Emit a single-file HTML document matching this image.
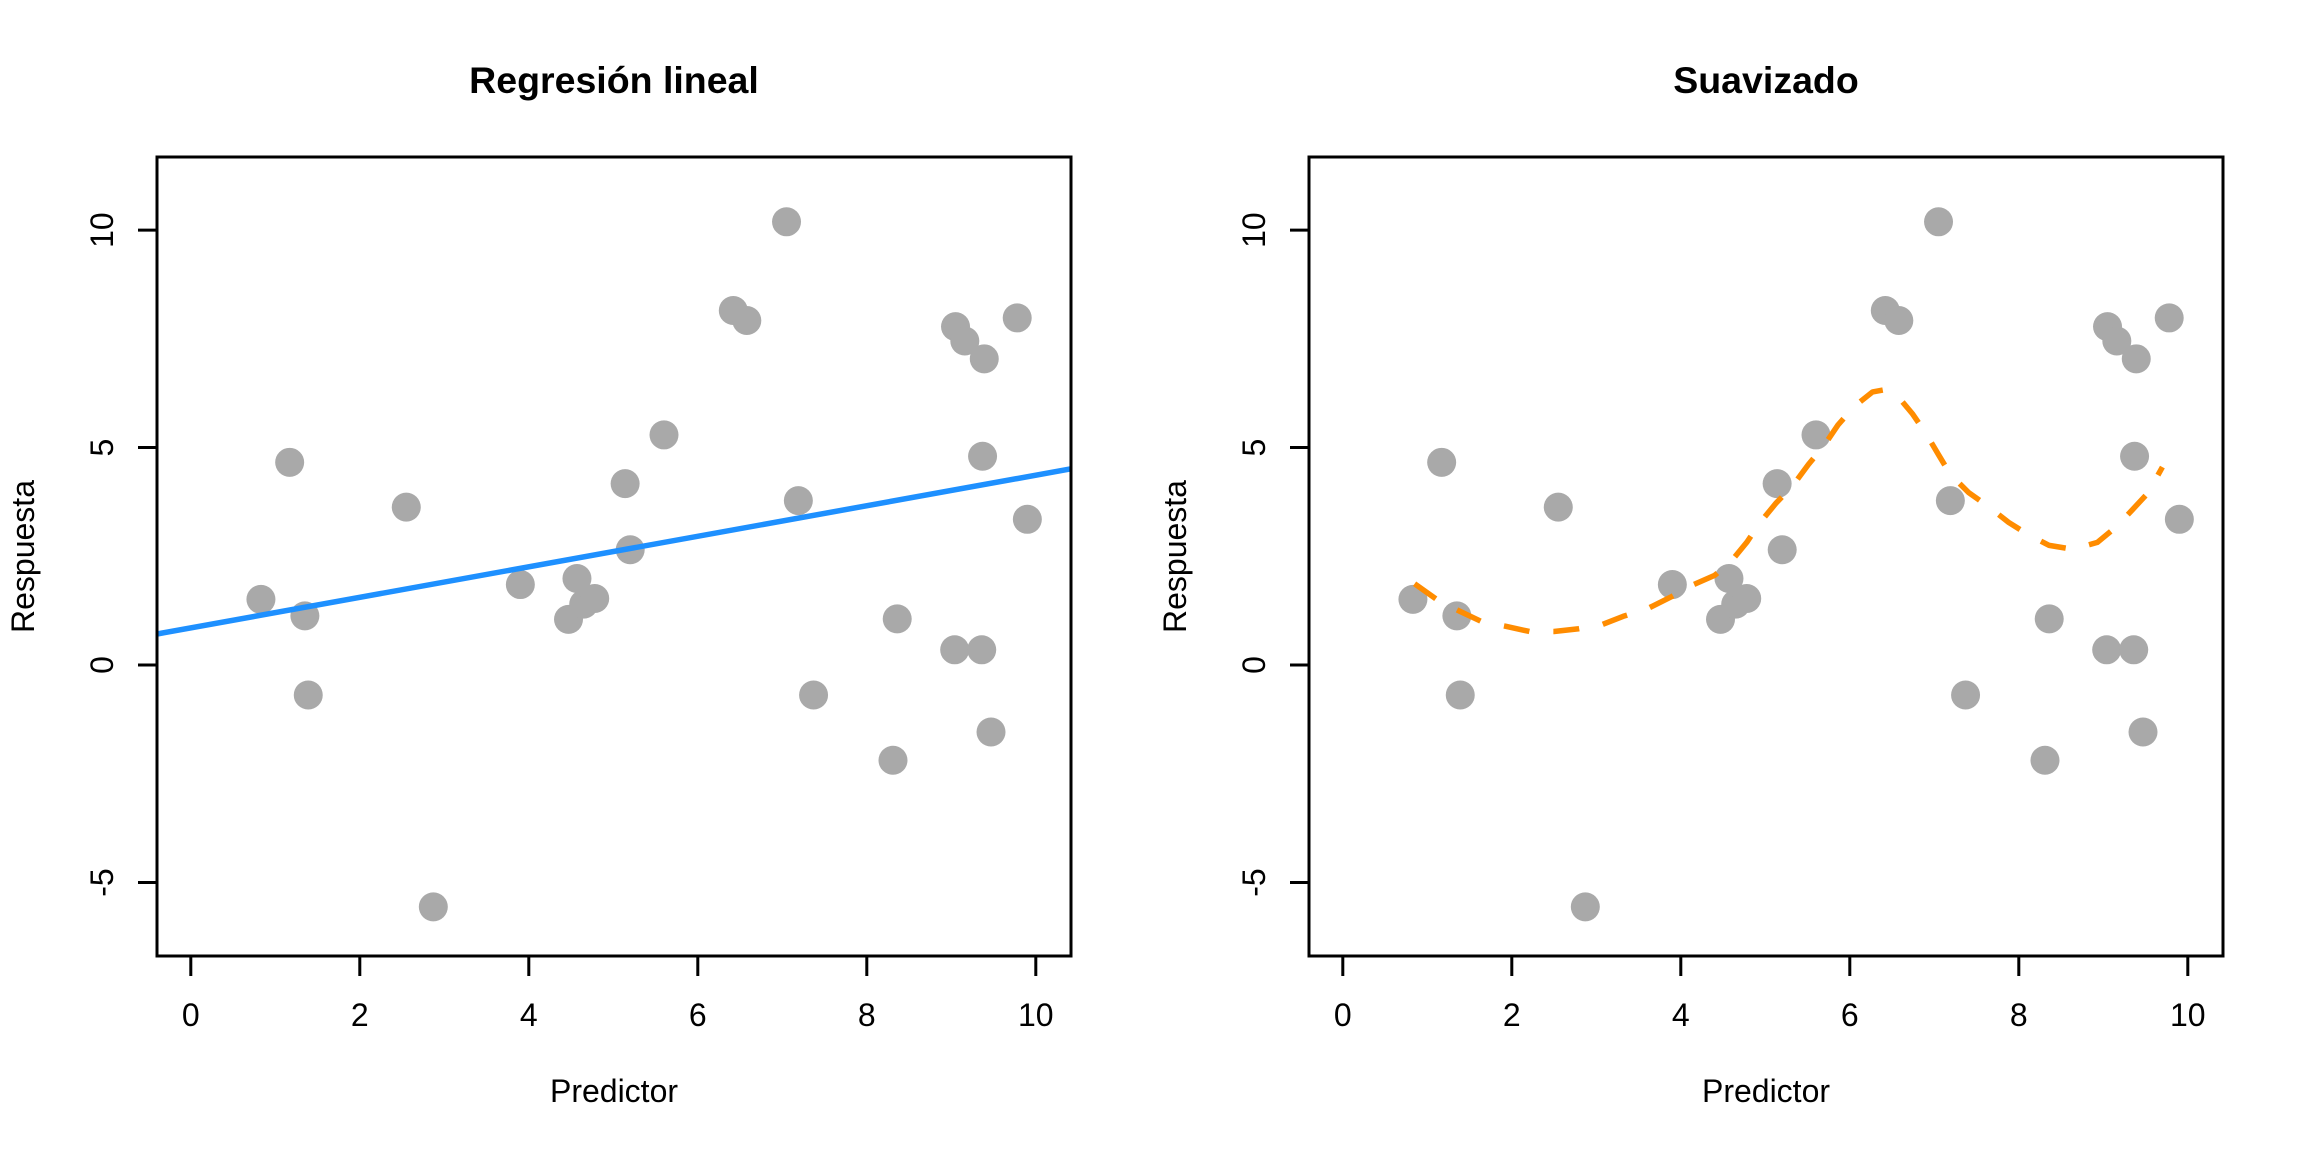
<!DOCTYPE html>
<html><head><meta charset="utf-8"><style>
html,body{margin:0;padding:0;background:#fff;}
svg{display:block;font-family:"Liberation Sans",Arial,sans-serif;}
</style></head><body>
<svg id="fig" width="2304" height="1152" viewBox="0 0 2304 1152"></svg>
<script>
const xs=[0.83,1.17,1.35,1.39,2.55,2.87,3.90,4.47,4.57,4.65,4.78,5.14,5.20,5.60,6.42,6.58,7.05,7.19,7.37,8.31,8.36,9.04,9.05,9.16,9.36,9.37,9.39,9.47,9.78,9.90];
const ys=[1.51,4.66,1.13,-0.69,3.63,-5.56,1.85,1.05,1.99,1.40,1.53,4.17,2.65,5.29,8.15,7.92,10.19,3.78,-0.69,-2.19,1.06,0.35,7.78,7.45,0.35,4.80,7.04,-1.54,7.98,3.35];
const lineCoef=[0.854,0.351];
const smoothX=[0.85,1.13,1.39,1.64,1.93,2.21,2.50,2.78,3.07,3.32,3.61,3.89,4.14,4.40,4.59,4.78,4.94,5.13,5.32,5.51,5.70,5.86,6.05,6.27,6.39,6.55,6.74,6.90,7.06,7.19,7.41,7.63,7.88,8.10,8.36,8.64,8.93,9.15,9.34,9.53,9.70];
const smoothY=[1.87,1.48,1.23,1.00,0.89,0.77,0.77,0.83,0.93,1.12,1.30,1.57,1.84,2.06,2.37,2.82,3.28,3.73,4.11,4.61,5.06,5.52,5.94,6.28,6.32,6.22,5.78,5.33,4.80,4.38,3.96,3.66,3.28,3.01,2.75,2.66,2.82,3.17,3.56,3.96,4.55];
const xTicks=[0,2,4,6,8,10];
const yTicks=[-5,0,5,10];
const titles=["Regresión lineal","Suavizado"];

const NS="http://www.w3.org/2000/svg";
const svg=document.getElementById('fig');
function mk(tag,attrs,parent,text){const e=document.createElementNS(NS,tag);for(const k in attrs)e.setAttribute(k,attrs[k]);if(text!==undefined)e.textContent=text;(parent||svg).appendChild(e);return e;}

const panels=[{left:157,right:1071},{left:1309,right:2223}];
const PTOP=157,PBOT=956,XMIN=-0.4,PXU=84.5,YMAX=11.68,YMIN=-6.69;
const yScale=(PBOT-PTOP)/(YMAX-YMIN);

panels.forEach((p,pi)=>{
  const g=mk('g',{});
  
  
  const X=v=>p.left+(v-XMIN)*PXU;
  const Y=v=>PTOP+(YMAX-v)*yScale;
  const t=mk('text',{x:(p.left+p.right)/2,y:93,'text-anchor':'middle','font-size':37.5,'font-weight':'bold'},g,titles[pi]);
  
  
  const pts=mk('g',{fill:'#a9a9a9'},g);
  
  
  xs.forEach((x,i)=>{
    const c=mk('circle',{cx:X(x),cy:Y(ys[i]),r:14.5},pts);
    
    
  });
  if(pi===0){
    const x1=XMIN,x2=XMIN+(p.right-p.left)/PXU;
    const l=mk('line',{x1:p.left,y1:Y(lineCoef[0]+lineCoef[1]*x1),x2:p.right,y2:Y(lineCoef[0]+lineCoef[1]*x2),stroke:'#1e90ff','stroke-width':5.5},g);
    
    
  } else {
    let d='';
    smoothX.forEach((x,i)=>{d+=(i?'L':'M')+X(x).toFixed(1)+' '+Y(smoothY[i]).toFixed(1);});
    const pa=mk('path',{d:d,fill:'none',stroke:'#ff8c00','stroke-width':5.5,'stroke-dasharray':'26 24','stroke-linejoin':'round'},g);
    
    
  }
  const b=mk('rect',{x:p.left,y:PTOP,width:p.right-p.left,height:PBOT-PTOP,fill:'none',stroke:'#000','stroke-width':3},g);
  
  
  const xa=mk('g',{},g);
  
  
  xTicks.forEach(v=>{
    mk('line',{x1:X(v),x2:X(v),y1:PBOT,y2:PBOT+20,stroke:'#000','stroke-width':3},xa);
    const tl=mk('text',{x:X(v),y:1026,'text-anchor':'middle','font-size':32},xa,String(v));
    
    
  });
  const ya=mk('g',{},g);
  
  
  yTicks.forEach(v=>{
    mk('line',{x1:p.left-19,x2:p.left,y1:Y(v),y2:Y(v),stroke:'#000','stroke-width':3},ya);
    const tx=p.left-44;
    const tl=mk('text',{x:tx,y:Y(v),'text-anchor':'middle','font-size':32,transform:`rotate(-90 ${tx} ${Y(v)})`},ya,String(v));
    
    
  });
  const xl=mk('text',{x:(p.left+p.right)/2,y:1102,'text-anchor':'middle','font-size':32},g,'Predictor');
  
  
  const lx=p.left-123,ly=(PTOP+PBOT)/2;
  const yl=mk('text',{x:lx,y:ly,'text-anchor':'middle','font-size':32,transform:`rotate(-90 ${lx} ${ly})`},g,'Respuesta');
  
  
});
</script>
</body></html>
